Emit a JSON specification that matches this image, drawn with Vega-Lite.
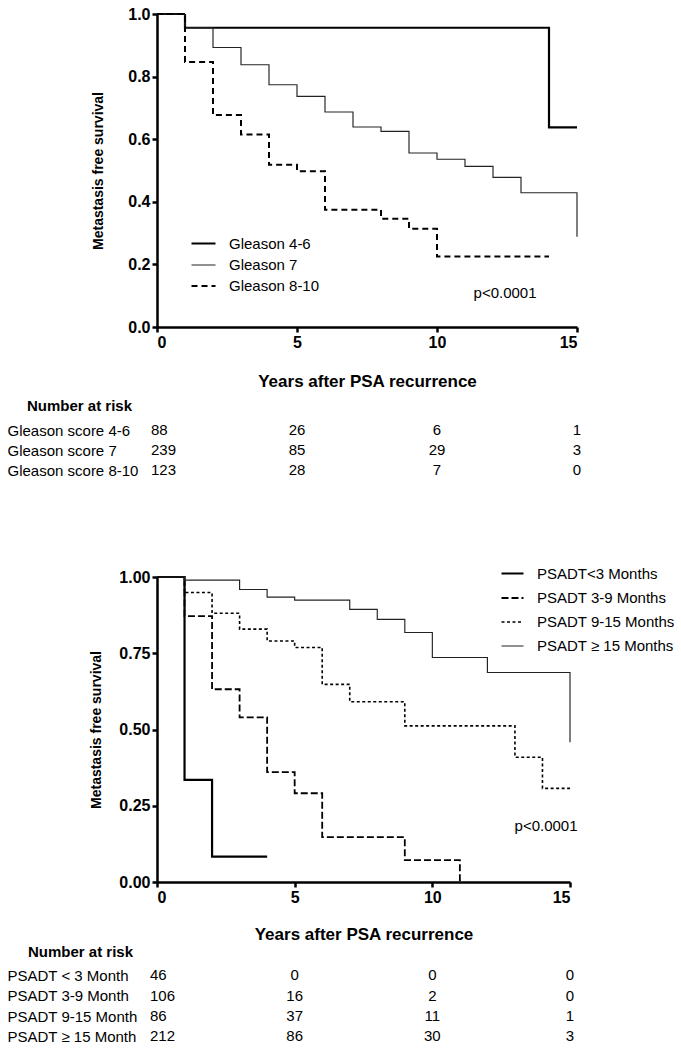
{
  "$schema": "https://vega.github.io/schema/vega-lite/v6.json",
  "padding": {"left": 7, "top": 6, "right": 0, "bottom": 0},
  "background": "white",
  "config": {
    "font": "Liberation Sans",
    "view": {"stroke": null},
    "axis": {
      "labelFont": "Liberation Sans",
      "titleFont": "Liberation Sans",
      "labelColor": "black",
      "titleColor": "black",
      "domainColor": "black",
      "tickColor": "black",
      "grid": false
    },
    "text": {"font": "Liberation Sans", "color": "black"},
    "title": {"font": "Liberation Sans", "color": "black"}
  },
  "datasets": {
    "gleason": [
      {"group": "Gleason 4-6", "year": 0, "survival": 1.0},
      {"group": "Gleason 4-6", "year": 1, "survival": 0.956},
      {"group": "Gleason 4-6", "year": 14, "survival": 0.638},
      {"group": "Gleason 4-6", "year": 15, "survival": 0.638},
      {"group": "Gleason 7", "year": 0, "survival": 1.0},
      {"group": "Gleason 7", "year": 1, "survival": 0.956},
      {"group": "Gleason 7", "year": 2, "survival": 0.893},
      {"group": "Gleason 7", "year": 3, "survival": 0.838},
      {"group": "Gleason 7", "year": 4, "survival": 0.774},
      {"group": "Gleason 7", "year": 5, "survival": 0.737},
      {"group": "Gleason 7", "year": 6, "survival": 0.687},
      {"group": "Gleason 7", "year": 7, "survival": 0.639},
      {"group": "Gleason 7", "year": 8, "survival": 0.625},
      {"group": "Gleason 7", "year": 9, "survival": 0.556},
      {"group": "Gleason 7", "year": 10, "survival": 0.536},
      {"group": "Gleason 7", "year": 11, "survival": 0.513},
      {"group": "Gleason 7", "year": 12, "survival": 0.478},
      {"group": "Gleason 7", "year": 13, "survival": 0.429},
      {"group": "Gleason 7", "year": 15, "survival": 0.288},
      {"group": "Gleason 8-10", "year": 0, "survival": 1.0},
      {"group": "Gleason 8-10", "year": 1, "survival": 0.847},
      {"group": "Gleason 8-10", "year": 2, "survival": 0.677},
      {"group": "Gleason 8-10", "year": 3, "survival": 0.615},
      {"group": "Gleason 8-10", "year": 4, "survival": 0.518},
      {"group": "Gleason 8-10", "year": 5, "survival": 0.498},
      {"group": "Gleason 8-10", "year": 6, "survival": 0.375},
      {"group": "Gleason 8-10", "year": 8, "survival": 0.346},
      {"group": "Gleason 8-10", "year": 9, "survival": 0.314},
      {"group": "Gleason 8-10", "year": 10, "survival": 0.225},
      {"group": "Gleason 8-10", "year": 14, "survival": 0.225}
    ],
    "psadt": [
      {"group": "PSADT<3 Months", "year": 0, "survival": 1.0},
      {"group": "PSADT<3 Months", "year": 1, "survival": 0.335},
      {"group": "PSADT<3 Months", "year": 2, "survival": 0.083},
      {"group": "PSADT<3 Months", "year": 4, "survival": 0.083},
      {"group": "PSADT 3-9 Months", "year": 0, "survival": 1.0},
      {"group": "PSADT 3-9 Months", "year": 1, "survival": 0.872},
      {"group": "PSADT 3-9 Months", "year": 2, "survival": 0.632},
      {"group": "PSADT 3-9 Months", "year": 3, "survival": 0.540},
      {"group": "PSADT 3-9 Months", "year": 4, "survival": 0.360},
      {"group": "PSADT 3-9 Months", "year": 5, "survival": 0.291},
      {"group": "PSADT 3-9 Months", "year": 6, "survival": 0.147},
      {"group": "PSADT 3-9 Months", "year": 9, "survival": 0.072},
      {"group": "PSADT 3-9 Months", "year": 11, "survival": 0.0},
      {"group": "PSADT 9-15 Months", "year": 0, "survival": 1.0},
      {"group": "PSADT 9-15 Months", "year": 1, "survival": 0.949},
      {"group": "PSADT 9-15 Months", "year": 2, "survival": 0.881},
      {"group": "PSADT 9-15 Months", "year": 3, "survival": 0.829},
      {"group": "PSADT 9-15 Months", "year": 4, "survival": 0.790},
      {"group": "PSADT 9-15 Months", "year": 5, "survival": 0.769},
      {"group": "PSADT 9-15 Months", "year": 6, "survival": 0.648},
      {"group": "PSADT 9-15 Months", "year": 7, "survival": 0.591},
      {"group": "PSADT 9-15 Months", "year": 9, "survival": 0.512},
      {"group": "PSADT 9-15 Months", "year": 13, "survival": 0.409},
      {"group": "PSADT 9-15 Months", "year": 14, "survival": 0.307},
      {"group": "PSADT 9-15 Months", "year": 15, "survival": 0.307},
      {"group": "PSADT ≥ 15 Months", "year": 0, "survival": 1.0},
      {"group": "PSADT ≥ 15 Months", "year": 1, "survival": 0.990},
      {"group": "PSADT ≥ 15 Months", "year": 3, "survival": 0.959},
      {"group": "PSADT ≥ 15 Months", "year": 4, "survival": 0.934},
      {"group": "PSADT ≥ 15 Months", "year": 5, "survival": 0.924},
      {"group": "PSADT ≥ 15 Months", "year": 7, "survival": 0.894},
      {"group": "PSADT ≥ 15 Months", "year": 8, "survival": 0.861},
      {"group": "PSADT ≥ 15 Months", "year": 9, "survival": 0.818},
      {"group": "PSADT ≥ 15 Months", "year": 10, "survival": 0.736},
      {"group": "PSADT ≥ 15 Months", "year": 12, "survival": 0.687},
      {"group": "PSADT ≥ 15 Months", "year": 15, "survival": 0.458}
    ],
    "pval1": [{"year": 12.43, "survival": 0.108, "label": "p<0.0001"}],
    "pval2": [{"year": 14.13, "survival": 0.185, "label": "p<0.0001"}],
    "risk1": [
      {"group": "Gleason score 4-6", "year": 0, "n": 88},
      {"group": "Gleason score 4-6", "year": 5, "n": 26},
      {"group": "Gleason score 4-6", "year": 10, "n": 6},
      {"group": "Gleason score 4-6", "year": 15, "n": 1},
      {"group": "Gleason score 7", "year": 0, "n": 239},
      {"group": "Gleason score 7", "year": 5, "n": 85},
      {"group": "Gleason score 7", "year": 10, "n": 29},
      {"group": "Gleason score 7", "year": 15, "n": 3},
      {"group": "Gleason score 8-10", "year": 0, "n": 123},
      {"group": "Gleason score 8-10", "year": 5, "n": 28},
      {"group": "Gleason score 8-10", "year": 10, "n": 7},
      {"group": "Gleason score 8-10", "year": 15, "n": 0}
    ],
    "risk2": [
      {"group": "PSADT < 3 Month", "year": 0, "n": 46},
      {"group": "PSADT < 3 Month", "year": 5, "n": 0},
      {"group": "PSADT < 3 Month", "year": 10, "n": 0},
      {"group": "PSADT < 3 Month", "year": 15, "n": 0},
      {"group": "PSADT 3-9 Month", "year": 0, "n": 106},
      {"group": "PSADT 3-9 Month", "year": 5, "n": 16},
      {"group": "PSADT 3-9 Month", "year": 10, "n": 2},
      {"group": "PSADT 3-9 Month", "year": 15, "n": 0},
      {"group": "PSADT 9-15 Month", "year": 0, "n": 86},
      {"group": "PSADT 9-15 Month", "year": 5, "n": 37},
      {"group": "PSADT 9-15 Month", "year": 10, "n": 11},
      {"group": "PSADT 9-15 Month", "year": 15, "n": 1},
      {"group": "PSADT ≥ 15 Month", "year": 0, "n": 212},
      {"group": "PSADT ≥ 15 Month", "year": 5, "n": 86},
      {"group": "PSADT ≥ 15 Month", "year": 10, "n": 30},
      {"group": "PSADT ≥ 15 Month", "year": 15, "n": 3}
    ]
  },
  "spacing": 81,
  "resolve": {
    "scale": {"color": "independent", "strokeDash": "independent", "strokeWidth": "independent", "x": "independent", "y": "independent"},
    "legend": {"color": "independent", "strokeDash": "independent", "strokeWidth": "independent"}
  },
  "vconcat": [
    {
      "spacing": 10,
      "vconcat": [
        {
          "width": 420,
          "height": 313,
          "layer": [
            {
              "data": {"name": "gleason"},
              "mark": {"type": "line", "interpolate": "step-after"},
              "encoding": {
                "x": {"field": "year", "type": "quantitative",
                  "scale": {"domain": [0, 15], "nice": false},
                  "axis": {"values": [0, 5, 10, 15], "title": "Years after PSA recurrence",
                    "domainWidth": 2.5, "tickWidth": 2.5, "tickSize": 5, "labelPadding": 2,
                    "labelFontSize": 16, "labelFontWeight": "bold",
                    "titleFontSize": 17, "titleFontWeight": "bold", "titlePadding": 23}},
                "y": {"field": "survival", "type": "quantitative",
                  "scale": {"domain": [0, 1], "nice": false},
                  "axis": {"values": [0, 0.2, 0.4, 0.6, 0.8, 1.0], "format": ".1f", "title": "Metastasis free survival",
                    "domainWidth": 2.5, "tickWidth": 2.5, "tickSize": 5, "labelPadding": 2,
                    "labelFontSize": 16, "labelFontWeight": "bold",
                    "titleFontSize": 14, "titleFontWeight": "bold", "titlePadding": 22}},
                "color": {"field": "group", "type": "nominal",
                  "scale": {"domain": ["Gleason 4-6", "Gleason 7", "Gleason 8-10"], "range": ["#000000", "#222222", "#000000"]},
                  "legend": {"orient": "none", "legendX": 33, "legendY": 216, "title": null, "symbolType": "stroke", "symbolSize": 576, "labelFontSize": 15, "labelOffset": 12, "rowPadding": -1, "padding": 0, "labelFont": "Liberation Sans", "labelColor": "black"}},
                "strokeDash": {"field": "group", "type": "nominal",
                  "scale": {"domain": ["Gleason 4-6", "Gleason 7", "Gleason 8-10"], "range": [[1, 0], [1, 0], [6, 4]]},
                  "legend": {"orient": "none", "legendX": 33, "legendY": 216, "title": null, "symbolType": "stroke", "symbolSize": 576, "labelFontSize": 15, "labelOffset": 12, "rowPadding": -1, "padding": 0, "labelFont": "Liberation Sans", "labelColor": "black"}},
                "strokeWidth": {"field": "group", "type": "nominal",
                  "scale": {"type": "ordinal", "domain": ["Gleason 4-6", "Gleason 7", "Gleason 8-10"], "range": [2.2, 1.15, 2]},
                  "legend": {"orient": "none", "legendX": 33, "legendY": 216, "title": null, "symbolType": "stroke", "symbolSize": 576, "labelFontSize": 15, "labelOffset": 12, "rowPadding": -1, "padding": 0, "labelFont": "Liberation Sans", "labelColor": "black"}}
              }
            },
            {
              "data": {"name": "pval1"},
              "mark": {"type": "text", "fontSize": 15, "color": "black"},
              "encoding": {
                "x": {"field": "year", "type": "quantitative"},
                "y": {"field": "survival", "type": "quantitative"},
                "text": {"field": "label"}
              }
            }
          ]
        },
        {
          "width": 420,
          "height": {"step": 20},
          "data": {"name": "risk1"},
          "title": {"text": "Number at risk", "anchor": "start", "frame": "group", "dx": -130, "fontSize": 15, "fontWeight": "bold", "offset": 6, "color": "black"},
          "encoding": {
            "x": {"field": "year", "type": "quantitative", "scale": {"domain": [0, 15], "nice": false}, "axis": null},
            "y": {"field": "group", "type": "nominal", "sort": ["Gleason score 4-6", "Gleason score 7", "Gleason score 8-10"],
              "axis": {"title": null, "domain": false, "ticks": false, "tickSize": 0, "labelAlign": "left", "labelPadding": 150, "labelFontSize": 15, "labelFontWeight": "normal", "labelColor": "black"}},
            "text": {"field": "n", "type": "quantitative"}
          },
          "layer": [
            {"transform": [{"filter": "datum.year == 0"}], "mark": {"type": "text", "align": "left", "dx": -6, "fontSize": 15, "color": "black"}},
            {"transform": [{"filter": "datum.year > 0"}], "mark": {"type": "text", "align": "center", "fontSize": 15, "color": "black"}}
          ]
        }
      ]
    },
    {
      "spacing": 3,
      "vconcat": [
        {
          "width": 413,
          "height": 305,
          "layer": [
            {
              "data": {"name": "psadt"},
              "mark": {"type": "line", "interpolate": "step-after"},
              "encoding": {
                "x": {"field": "year", "type": "quantitative",
                  "scale": {"domain": [0, 15], "nice": false},
                  "axis": {"values": [0, 5, 10, 15], "title": "Years after PSA recurrence",
                    "domainWidth": 2.5, "tickWidth": 2.5, "tickSize": 5, "labelPadding": 2,
                    "labelFontSize": 16, "labelFontWeight": "bold",
                    "titleFontSize": 17, "titleFontWeight": "bold", "titlePadding": 21}},
                "y": {"field": "survival", "type": "quantitative",
                  "scale": {"domain": [0, 1], "nice": false},
                  "axis": {"values": [0, 0.25, 0.5, 0.75, 1.0], "format": ".2f", "title": "Metastasis free survival",
                    "domainWidth": 2.5, "tickWidth": 2.5, "tickSize": 5, "labelPadding": 2,
                    "labelFontSize": 16, "labelFontWeight": "bold",
                    "titleFontSize": 14, "titleFontWeight": "bold", "titlePadding": 15}},
                "color": {"field": "group", "type": "nominal",
                  "scale": {"domain": ["PSADT<3 Months", "PSADT 3-9 Months", "PSADT 9-15 Months", "PSADT ≥ 15 Months"], "range": ["#000000", "#000000", "#000000", "#222222"]},
                  "legend": {"orient": "none", "legendX": 343, "legendY": -16, "title": null, "symbolType": "stroke", "symbolSize": 484, "labelFontSize": 15, "labelOffset": 12, "rowPadding": 4, "padding": 0, "labelFont": "Liberation Sans", "labelColor": "black"}},
                "strokeDash": {"field": "group", "type": "nominal",
                  "scale": {"domain": ["PSADT<3 Months", "PSADT 3-9 Months", "PSADT 9-15 Months", "PSADT ≥ 15 Months"], "range": [[1, 0], [7, 3], [3, 2.5], [1, 0]]},
                  "legend": {"orient": "none", "legendX": 343, "legendY": -16, "title": null, "symbolType": "stroke", "symbolSize": 484, "labelFontSize": 15, "labelOffset": 12, "rowPadding": 4, "padding": 0, "labelFont": "Liberation Sans", "labelColor": "black"}},
                "strokeWidth": {"field": "group", "type": "nominal",
                  "scale": {"type": "ordinal", "domain": ["PSADT<3 Months", "PSADT 3-9 Months", "PSADT 9-15 Months", "PSADT ≥ 15 Months"], "range": [2.2, 1.8, 1.6, 1.15]},
                  "legend": {"orient": "none", "legendX": 343, "legendY": -16, "title": null, "symbolType": "stroke", "symbolSize": 484, "labelFontSize": 15, "labelOffset": 12, "rowPadding": 4, "padding": 0, "labelFont": "Liberation Sans", "labelColor": "black"}}
              }
            },
            {
              "data": {"name": "pval2"},
              "mark": {"type": "text", "fontSize": 15, "color": "black"},
              "encoding": {
                "x": {"field": "year", "type": "quantitative"},
                "y": {"field": "survival", "type": "quantitative"},
                "text": {"field": "label"}
              }
            }
          ]
        },
        {
          "width": 413,
          "height": {"step": 20.4},
          "data": {"name": "risk2"},
          "title": {"text": "Number at risk", "anchor": "start", "frame": "group", "dx": -129, "fontSize": 15, "fontWeight": "bold", "offset": 5, "color": "black"},
          "encoding": {
            "x": {"field": "year", "type": "quantitative", "scale": {"domain": [0, 15], "nice": false}, "axis": null},
            "y": {"field": "group", "type": "nominal", "sort": ["PSADT < 3 Month", "PSADT 3-9 Month", "PSADT 9-15 Month", "PSADT ≥ 15 Month"],
              "axis": {"title": null, "domain": false, "ticks": false, "tickSize": 0, "labelAlign": "left", "labelPadding": 150, "labelFontSize": 15, "labelFontWeight": "normal", "labelColor": "black"}},
            "text": {"field": "n", "type": "quantitative"}
          },
          "layer": [
            {"transform": [{"filter": "datum.year == 0"}], "mark": {"type": "text", "align": "left", "dx": -7, "fontSize": 15, "color": "black"}},
            {"transform": [{"filter": "datum.year > 0"}], "mark": {"type": "text", "align": "center", "fontSize": 15, "color": "black"}}
          ]
        }
      ]
    }
  ]
}
